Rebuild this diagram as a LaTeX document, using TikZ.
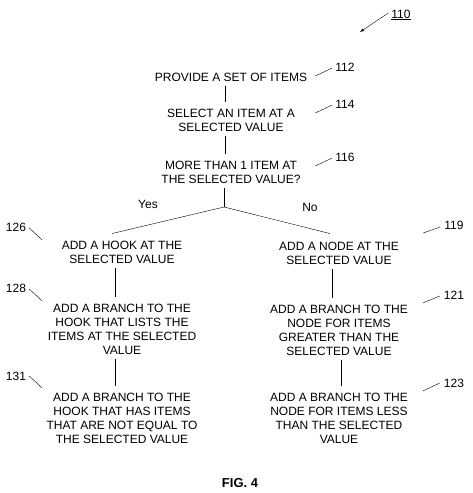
\documentclass[tikz,border=0pt]{standalone}
\usepackage{fontspec}
\setmainfont{Liberation Sans}
\usetikzlibrary{arrows}

\begin{document}
\begin{tikzpicture}[x=1pt,y=-1pt]
\tikzset{box/.style={align=center,inner sep=0pt,font=\fontsize{12}{14}\selectfont}}
\tikzset{num/.style={inner sep=0pt,font=\fontsize{12}{14}\selectfont}}
\tikzset{link/.style={shorten <=5pt,shorten >=7pt}}
\useasboundingbox (0,0) rectangle (472,493);

% main column
\node[box] (provide) at (231,77) {PROVIDE A SET OF ITEMS};
\node[box] (select) at (231,120) {SELECT AN ITEM AT A\\SELECTED VALUE};
\node[box] (more) at (231,172) {MORE THAN 1 ITEM AT\\THE SELECTED VALUE?};
\draw[link] ([xshift=-6pt]provide.south) -- ([xshift=-6pt]select.north);
\draw[link] ([xshift=-6pt]select.south) -- ([xshift=-6pt]more.north);

% yes side
\node[box] (hook) at (122,252) {ADD A HOOK AT THE\\SELECTED VALUE};
\node[box] (listbranch) at (122,329) {ADD A BRANCH TO THE\\HOOK THAT LISTS THE\\ITEMS AT THE SELECTED\\VALUE};
\node[box] (nebranch) at (122,418) {ADD A BRANCH TO THE\\HOOK THAT HAS ITEMS\\THAT ARE NOT EQUAL TO\\THE SELECTED VALUE};

% no side
\node[box] (addnode) at (339,253) {ADD A NODE AT THE\\SELECTED VALUE};
\node[box] (gtbranch) at (339,330) {ADD A BRANCH TO THE\\NODE FOR ITEMS\\GREATER THAN THE\\SELECTED VALUE};
\node[box] (ltbranch) at (339,418) {ADD A BRANCH TO THE\\NODE FOR ITEMS LESS\\THAN THE SELECTED\\VALUE};

\coordinate (split) at (224,207);
\draw[shorten <=5pt] ([xshift=-7pt]more.south) -- (split);
\draw (split) -- ([shift={(-10pt,7pt)}]hook.north);
\draw (split) -- ([shift={(-9pt,8pt)}]addnode.north);
\node[box] (yes) at (148,204) {Yes};
\node[box] (no) at (310,207) {No};

\draw[link] ([xshift=-7pt]hook.south) -- ([xshift=-7pt]listbranch.north);
\draw[link] ([xshift=-7pt]listbranch.south) -- ([xshift=-7pt]nebranch.north);
\draw[link] ([xshift=-7pt]addnode.south) -- ([xshift=-7pt]gtbranch.north);
\draw[link] ([xshift=2pt]gtbranch.south) -- ([xshift=2pt]ltbranch.north);

% reference numerals
\node[num] (n110) at (401,15) {\underline{110}};
\coordinate (tip110) at (360,32);
\draw[-latex] ([shift={(-3pt,2pt)}]n110.west) -- (tip110);

\node[num] (n112) at (345,67) {112};
\node[num] (n114) at (345,104) {114};
\node[num] (n116) at (345,157) {116};
\draw (n112.west) ++(-3,1) -- ++(-17,8);
\draw (n114.west) ++(-3,1) -- ++(-17,8);
\draw (n116.west) ++(-3,1) -- ++(-17,8);

\node[num] (n126) at (16,227) {126};
\node[num] (n128) at (16,288) {128};
\node[num] (n131) at (16,376) {131};
\draw (n126.east) ++(3,1) -- ++(13,12);
\draw (n128.east) ++(3,1) -- ++(13,12);
\draw (n131.east) ++(3,0) -- ++(13,12);

\node[num] (n119) at (454,225) {119};
\node[num] (n121) at (454,295) {121};
\node[num] (n123) at (454,383) {123};
\draw (n119.west) ++(-4,2) -- ++(-17,6);
\draw (n121.west) ++(-4,1) -- ++(-17,7);
\draw (n123.west) ++(-4,0) -- ++(-17,8);

\node[font=\bfseries\fontsize{13}{15}\selectfont] (fig) at (240,483) {FIG. 4};
\end{tikzpicture}
\end{document}
